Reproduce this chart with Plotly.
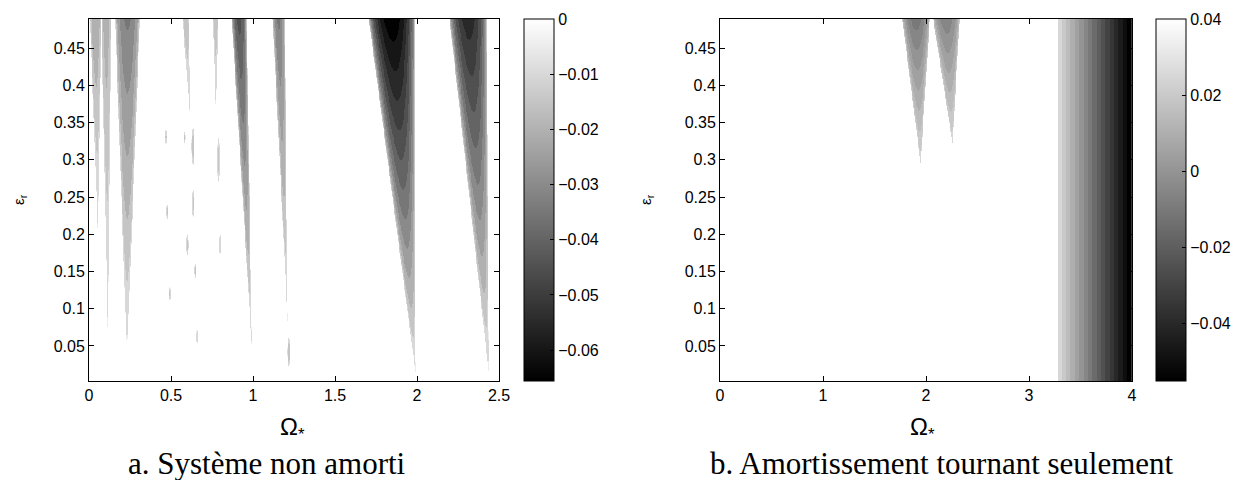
import numpy as np
import plotly.graph_objects as go

W, H = 1252, 488          # browser window
PAD = 8                   # default body margin of the html page
FW, FH = W - 2 * PAD, H - 2 * PAD


def px(x):
    return (x - PAD) / FW


def py(y):
    return 1 - (y - PAD) / FH


# ---------------- shared ----------------
eps_range = [0.003, 0.489]
eps_top = 0.49
eps_ticks = [0.05, 0.1, 0.15, 0.2, 0.25, 0.3, 0.35, 0.4, 0.45]

# ---------------- panel a : undamped system ----------------
omega_a_range = [0.0, 2.5]
omega_a_ticks = [0, 0.5, 1, 1.5, 2, 2.5]
cbar_a_range = [-0.0656, 0.0]
cbar_a_ticks = [0, -0.01, -0.02, -0.03, -0.04, -0.05, -0.06]
stable_a = 0.0
edge_a = -0.004
step_a = 0.005

# instability tongues: tip (Omega, eps), Omega span at top, peak growth value
tongue_a_tip_omega = [0.055, 0.116, 0.232, 0.62, 0.775, 0.995, 1.213, 1.994, 2.44]
tongue_a_tip_eps = [0.195, 0.054, 0.034, 0.35, 0.363, 0.045, 0.082, 0.014, 0.015]
tongue_a_top_left = [0.005, 0.075, 0.159, 0.57, 0.755, 0.87, 1.12, 1.707, 2.20]
tongue_a_top_right = [0.075, 0.135, 0.311, 0.61, 0.79, 0.963, 1.195, 1.99, 2.43]
tongue_a_peak = [-0.02, -0.018, -0.031, -0.014, -0.014, -0.042, -0.031, -0.064, -0.053]

# small unstable islands: centre (Omega, eps), half sizes, peak value
island_a_omega = [0.47, 0.585, 0.635, 0.79, 0.635, 0.477, 0.60, 0.80, 0.65, 0.494, 0.66, 1.22]
island_a_eps = [0.331, 0.33, 0.318, 0.30, 0.241, 0.23, 0.186, 0.186, 0.151, 0.12, 0.063, 0.042]
island_a_halfw = [0.006, 0.005, 0.010, 0.008, 0.007, 0.006, 0.007, 0.007, 0.006, 0.006, 0.006, 0.008]
island_a_halfh = [0.010, 0.008, 0.025, 0.030, 0.019, 0.010, 0.014, 0.014, 0.010, 0.009, 0.009, 0.020]
island_a_peak = [-0.012, -0.012, -0.015, -0.012, -0.012, -0.012, -0.012, -0.012, -0.012, -0.012, -0.008, -0.015]

# ---------------- panel b : rotating damping only ----------------
omega_b_range = [0.0, 4.0]
omega_b_ticks = [0, 1, 2, 3, 4]
cbar_b_range = [-0.055, 0.04]
cbar_b_ticks = [0.04, 0.02, 0, -0.02, -0.04]
stable_b = 0.04
edge_b = 0.028
step_b = 0.005

tongue_b_tip_omega = [1.95, 2.26]
tongue_b_tip_eps = [0.295, 0.322]
tongue_b_top_left = [1.77, 2.07]
tongue_b_top_right = [2.04, 2.33]
tongue_b_peak = [-0.008, -0.004]

# supercritical band (depends on Omega only)
band_b_omega = [3.28, 4.0]
band_b_value = [0.03, -0.055]


def build_field(om, ep, base, edge, tips_o, tips_e, tl, tr, peaks,
                isl_o=(), isl_e=(), isl_w=(), isl_h=(), isl_p=()):
    O, E = np.meshgrid(om, ep)
    Z = np.full(O.shape, float(base))
    for to, te, l, r, p in zip(tips_o, tips_e, tl, tr, peaks):
        frac = np.clip((E - te) / (eps_top - te), 0, None)
        L = to + (l - to) * frac
        R = to + (r - to) * frac
        c = (L + R) / 2
        half = np.maximum((R - L) / 2, 1e-9)
        inside = (E >= te) & (np.abs(O - c) <= half)
        u = np.clip((O - c) / half, -1, 1)
        v = edge + (p - edge) * frac * np.sqrt(1 - u ** 2)
        Z = np.where(inside, np.minimum(Z, v), Z)
    for co, ce, a, b, p in zip(isl_o, isl_e, isl_w, isl_h, isl_p):
        r2 = ((O - co) / a) ** 2 + ((E - ce) / b) ** 2
        v = edge + (p - edge) * (1 - r2)
        Z = np.where(r2 <= 1, np.minimum(Z, v), Z)
    return Z


eps_grid = np.linspace(eps_range[0], eps_range[1], 400)
om_a = np.linspace(omega_a_range[0], omega_a_range[1], 900)
om_b = np.linspace(omega_b_range[0], omega_b_range[1], 900)

Za = build_field(om_a, eps_grid, stable_a, edge_a, tongue_a_tip_omega, tongue_a_tip_eps,
                 tongue_a_top_left, tongue_a_top_right, tongue_a_peak,
                 island_a_omega, island_a_eps, island_a_halfw, island_a_halfh, island_a_peak)
Za = np.floor(Za / step_a + 1e-9) * step_a

Zb = build_field(om_b, eps_grid, stable_b, edge_b, tongue_b_tip_omega, tongue_b_tip_eps,
                 tongue_b_top_left, tongue_b_top_right, tongue_b_peak)
Ob, Eb = np.meshgrid(om_b, eps_grid)
band = np.interp(Ob, band_b_omega, band_b_value)
Zb = np.where(Ob >= band_b_omega[0], np.minimum(Zb, band), Zb)
Zb = np.floor(Zb / step_b + 1e-9) * step_b

gray = [[0, "rgb(0,0,0)"], [1, "rgb(255,255,255)"]]
tick_font = dict(family="Liberation Sans, Arial, sans-serif", size=16, color="black")

cb_common = dict(thickness=30, thicknessmode="pixels", len=362 / FH, lenmode="fraction",
                 y=py(200), yanchor="middle", xanchor="left", xpad=0, ypad=0,
                 outlinewidth=1, outlinecolor="black", ticks="inside", ticklen=4,
                 tickcolor="black", tickfont=tick_font)

fig = go.Figure()
fig.add_trace(go.Heatmap(x=om_a, y=eps_grid, z=Za, colorscale=gray,
                         zmin=cbar_a_range[0], zmax=cbar_a_range[1], zsmooth=False,
                         xaxis="x", yaxis="y",
                         colorbar=dict(x=px(524), tickvals=cbar_a_ticks, **cb_common)))
fig.add_trace(go.Heatmap(x=om_b, y=eps_grid, z=Zb, colorscale=gray,
                         zmin=cbar_b_range[0], zmax=cbar_b_range[1], zsmooth=False,
                         xaxis="x2", yaxis="y2",
                         colorbar=dict(x=px(1156), tickvals=cbar_b_ticks, **cb_common)))

ax_common = dict(showline=True, linecolor="black", linewidth=1, mirror="ticks",
                 ticks="inside", ticklen=5, tickcolor="black", tickfont=tick_font,
                 showgrid=False, zeroline=False, automargin=False)

fig.update_layout(
    width=FW, height=FH, margin=dict(l=0, r=0, t=0, b=0, pad=0, autoexpand=False),
    paper_bgcolor="white", plot_bgcolor="white",
    xaxis=dict(domain=[px(89), px(499)], range=omega_a_range, tickvals=omega_a_ticks,
               anchor="y", **ax_common),
    yaxis=dict(domain=[py(381), py(19)], range=eps_range, tickvals=eps_ticks,
               anchor="x", **ax_common),
    xaxis2=dict(domain=[px(720), px(1132)], range=omega_b_range, tickvals=omega_b_ticks,
                anchor="y2", **ax_common),
    yaxis2=dict(domain=[py(381), py(19)], range=eps_range, tickvals=eps_ticks,
                anchor="x2", **ax_common),
)

label_font = dict(family="Liberation Sans, Arial, sans-serif", size=24, color="black")
eps_font = dict(family="Liberation Sans, Arial, sans-serif", size=15, color="black")
cap_font = dict(family="Liberation Serif, Times New Roman, serif", size=31, color="black")

annots = [
    dict(x=px(292), y=py(428), text="Ω<sub>*</sub>", font=label_font),
    dict(x=px(922), y=py(428), text="Ω<sub>*</sub>", font=label_font),
    dict(x=px(19), y=py(200), text="ε<sub>r</sub>", font=eps_font, textangle=-90),
    dict(x=px(646), y=py(200), text="ε<sub>r</sub>", font=eps_font, textangle=-90),
    dict(x=px(267), y=py(463), text="a. Système non amorti", font=cap_font),
    dict(x=px(942), y=py(463), text="b. Amortissement tournant seulement", font=cap_font),
]
for a in annots:
    fig.add_annotation(xref="paper", yref="paper", showarrow=False,
                       xanchor="center", yanchor="middle", **a)

fig.write_html("out.html")
